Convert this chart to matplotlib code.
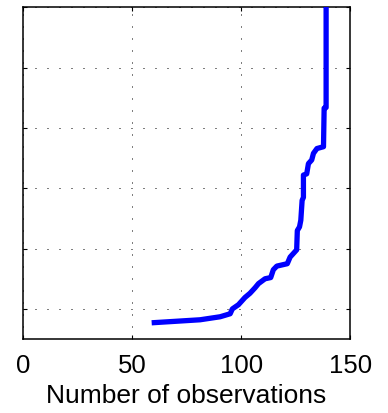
import matplotlib
matplotlib.use("Agg")
import matplotlib.pyplot as plt

plt.rcParams['font.family'] = ['Liberation Sans', 'DejaVu Sans']

# Number of observations vs. cumulative level
observations = [59.0, 81.2, 90.4, 95.0, 96.0, 98.8, 101.8, 104.1, 106.4, 108.0,
                111.0, 113.6, 114.8, 116.4, 121.2, 122.5, 125.5, 125.8, 126.8,
                127.4, 128.0, 128.6, 128.6, 130.1, 130.9, 132.4, 133.2, 134.8,
                137.8, 138.1, 139.0, 139.0]
level = [0.77, 0.82, 0.87, 0.92, 1.00, 1.07, 1.19, 1.26, 1.35, 1.42,
         1.50, 1.52, 1.65, 1.71, 1.75, 1.86, 1.98, 2.30, 2.36,
         2.47, 2.80, 2.85, 3.22, 3.24, 3.41, 3.47, 3.58, 3.66,
         3.69, 4.33, 4.34, 6.20]

x_ticks = [0, 50, 100, 150]
y_ticks = [1, 2, 3, 4, 5, 6]

fig = plt.figure(figsize=(3.88, 4.13), dpi=100)
ax = fig.add_axes([0.0593, 0.179, 0.843, 0.803])

ax.plot(observations, level, color=(0, 0, 1), linewidth=3.8,
        solid_joinstyle='round', solid_capstyle='butt', zorder=3)

ax.set_xlim(0, 150)
ax.set_ylim(0.5, 6.0)
ax.set_xticks(x_ticks)
ax.set_yticks(y_ticks)
ax.set_yticklabels([])
ax.tick_params(direction='in', length=3, width=0.8, labelsize=18.5,
               top=True, right=True, pad=11)
ax.grid(True, color='black', linestyle=(0, (1, 11)), linewidth=0.72)
for s in ax.spines.values():
    s.set_linewidth(1.1)
ax.set_xlabel('Number of observations', fontsize=19, labelpad=4)

fig.savefig('out.png', dpi=100)
